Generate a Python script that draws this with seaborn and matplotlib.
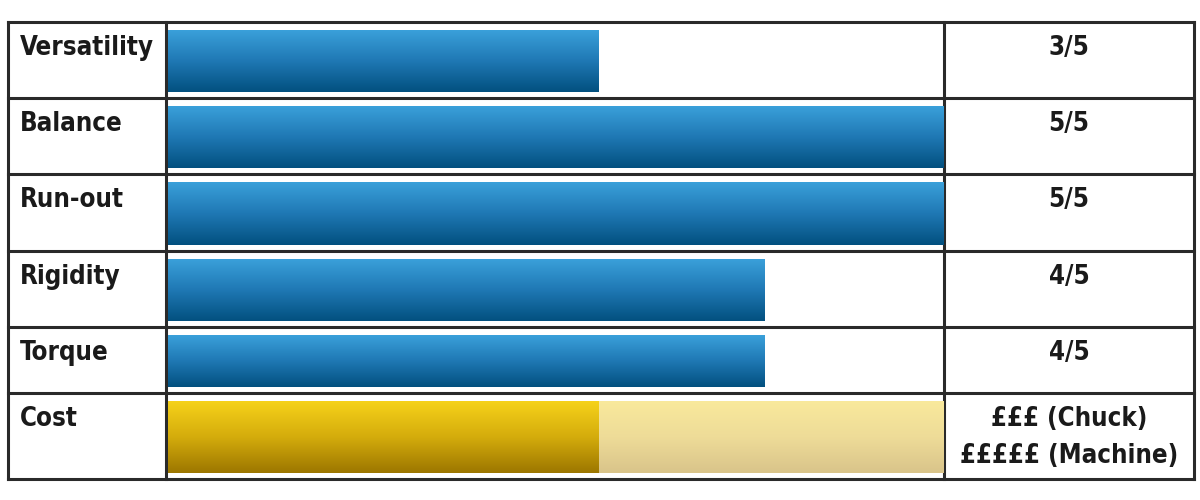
import numpy as np
import matplotlib
matplotlib.use("Agg")
import matplotlib.pyplot as plt
from matplotlib.colors import LinearSegmentedColormap
import seaborn as sns

# ---- data ----
criteria = ["Versatility", "Balance", "Run-out", "Rigidity", "Torque", "Cost"]
bar_values = [2.78, 5.0, 5.0, 3.85, 3.85, 2.78]
score_text = ["3/5", "5/5", "5/5", "4/5", "4/5", "£££ (Chuck)\n£££££ (Machine)"]
cost_machine = 5.0
max_score = 5

# ---- layout (pixels, from top-left) ----
W, H = 1200, 500
row_edges = [22, 98, 174, 251, 327, 393, 479]
col_edges = [8, 166, 944, 1194]
bar_x0, bar_x1 = 168, 943
pad_top, pad_bot = 8, 6

blue = LinearSegmentedColormap.from_list("blue", ["#3aa0da", "#1f78b4", "#02507f"])
gold = LinearSegmentedColormap.from_list("gold", ["#f6d21a", "#d4ac0c", "#9c7600"])
pale = LinearSegmentedColormap.from_list("pale", ["#f9e99c", "#eedc98", "#d9c48a"])

sns.set_style("white")
plt.rcParams["font.family"] = ["DejaVu Sans"]

fig = plt.figure(figsize=(12, 5), dpi=100)

# background axes in pixel space for grid + text
bg = fig.add_axes([0, 0, 1, 1])
bg.set_xlim(0, W)
bg.set_ylim(H, 0)
bg.axis("off")
lc = "#2a2a2a"
for y in row_edges:
    bg.plot([col_edges[0], col_edges[-1]], [y, y], color=lc, lw=2.2, solid_capstyle="projecting")
for x in col_edges:
    bg.plot([x, x], [row_edges[0], row_edges[-1]], color=lc, lw=2.2, solid_capstyle="projecting")

txt = dict(fontsize=18.5, fontweight="bold", fontstretch="condensed", color="#1a1a1a", va="top")
for i, name in enumerate(criteria):
    top = row_edges[i]
    bg.text(20, top + 13, name, ha="left", **txt)
    cx = (col_edges[2] + col_edges[3]) / 2
    bg.text(cx, top + 13, score_text[i], ha="center", linespacing=1.55, **txt)


def gradient_bars(ax, cmap):
    grad = np.linspace(0, 1, 256).reshape(-1, 1)
    for p in ax.patches:
        x0, y0, w, h = p.get_x(), p.get_y(), p.get_width(), p.get_height()
        p.set_facecolor("none")
        p.set_edgecolor("none")
        im = ax.imshow(grad, cmap=cmap, aspect="auto", origin="upper",
                       extent=(x0, x0 + w, y0 + h, y0), zorder=p.get_zorder())
        im.set_clip_path(p)


def bar_axes(i):
    top, bot = row_edges[i], row_edges[i + 1]
    ax = fig.add_axes([bar_x0 / W, 1 - bot / H, (bar_x1 - bar_x0) / W, (bot - top) / H])
    ax.patch.set_alpha(0)
    return ax


def fix_limits(ax, i):
    top, bot = row_edges[i], row_edges[i + 1]
    u = 0.8 / (bot - top - pad_top - pad_bot)
    ax.set_xlim(0, max_score)
    ax.set_ylim(0.4 + pad_bot * u, -0.4 - pad_top * u)
    ax.axis("off")


for i, name in enumerate(criteria):
    if name == "Cost":
        ax = bar_axes(i)
        sns.barplot(x=[cost_machine], y=[name], orient="h", width=0.8, ax=ax)
        gradient_bars(ax, pale)
        ax2 = bar_axes(i)
        sns.barplot(x=[bar_values[i]], y=[name], orient="h", width=0.8, ax=ax2)
        gradient_bars(ax2, gold)
        fix_limits(ax, i)
        fix_limits(ax2, i)
    else:
        ax = bar_axes(i)
        sns.barplot(x=[bar_values[i]], y=[name], orient="h", width=0.8, ax=ax)
        gradient_bars(ax, blue)
        fix_limits(ax, i)

fig.savefig("out.png", dpi=100, facecolor="white")
